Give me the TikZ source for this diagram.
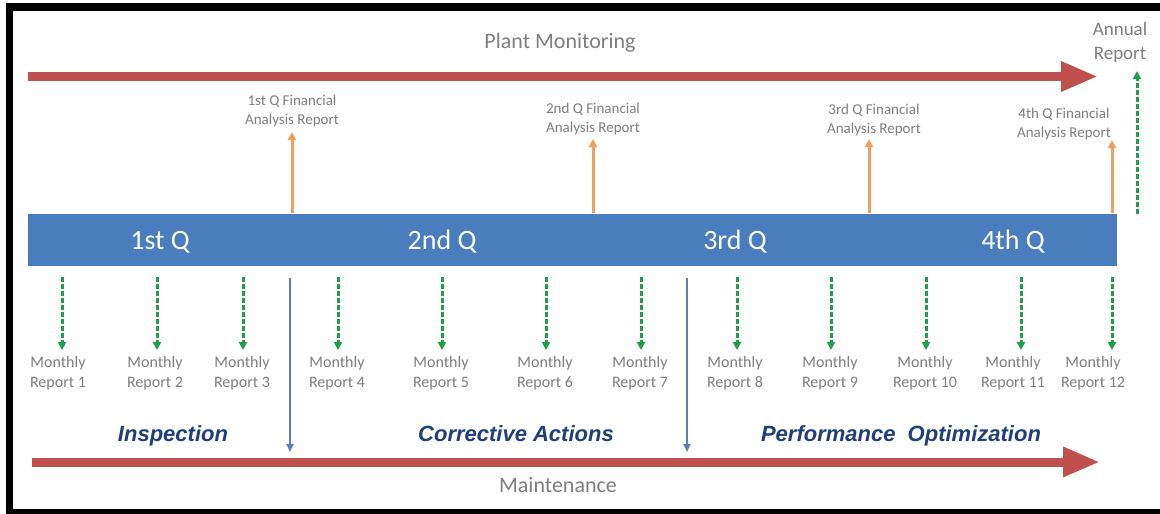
\documentclass[tikz,border=0pt]{standalone}
\usepackage{fontspec}
\setmainfont{Carlito}
\newfontfamily\boldital{Liberation Sans}
\usetikzlibrary{arrows.meta}
\definecolor{redarrow}{HTML}{C0504D}
\definecolor{barblue}{HTML}{4A7DBE}
\definecolor{greytext}{HTML}{7F7F7F}
\definecolor{orangearr}{HTML}{F0A05E}
\definecolor{greenarr}{HTML}{1EA04A}
\definecolor{sepblue}{HTML}{5A7DB4}
\definecolor{phaseblue}{HTML}{1F3F7A}
\tikzset{
  bigarrow/.style={draw=redarrow, line width=9pt, -{Triangle[length=37pt,width=28pt]}},
  quarter/.style={text=white, font=\fontsize{28}{30}\selectfont},
  fin/.style={text=greytext, align=center, font=\fontsize{15}{19}\selectfont, inner sep=0pt},
  month/.style={text=greytext, align=center, font=\fontsize{16}{19.5}\selectfont, inner sep=0pt},
  title/.style={text=greytext, align=center, inner sep=0pt},
  phase/.style={text=phaseblue, anchor=base, font=\boldital\bfseries\itshape\fontsize{22}{24}\selectfont, inner sep=0pt},
  finarrow/.style={draw=orangearr, line width=3pt, -{Triangle[length=8pt,width=8pt]}},
  monarrow/.style={draw=greenarr, line width=3pt, dash pattern=on 5pt off 2pt, -{Triangle[length=8pt,width=8pt]}},
  separrow/.style={draw=sepblue, line width=2.6pt, -{Triangle[length=8pt,width=7pt]}}
}
\begin{document}
\begin{tikzpicture}[x=1pt,y=-1pt]
\useasboundingbox (0,0) rectangle (1160,514);
% frame
\fill[black] (6,3) rectangle (1160,514);
\fill[white] (13,11) rectangle (1160,509);
% top arrow
\coordinate (pmS) at (28,76.5);
\coordinate (pmE) at (1098,76.5);
\draw[bigarrow] (pmS) -- (pmE);
\node[title, font=\fontsize{22}{24}\selectfont] (pm) at (560,43) {Plant Monitoring};
\node[title, font=\fontsize{19}{24}\selectfont] (ar) at (1120,42) {Annual\\Report};
% blue bar
\node[fill=barblue, draw=none, minimum width=1089pt, minimum height=52pt, inner sep=0pt, anchor=north west] (bar) at (28,214) {};
\node[quarter] (q1) at (160,242) {1st Q};
\node[quarter] (q2) at (442,242) {2nd Q};
\node[quarter] (q3) at (735,242) {3rd Q};
\node[quarter] (q4) at (1013,242) {4th Q};
% financial reports
\node[fin] (f1) at (292,111) {1st Q Financial\\Analysis Report};
\node[fin] (f2) at (593,119) {2nd Q Financial\\Analysis Report};
\node[fin] (f3) at (874,120) {3rd Q Financial\\Analysis Report};
\node[fin] (f4) at (1064,124) {4th Q Financial\\Analysis Report};
\coordinate (f1b) at (292,213); \coordinate (f1t) at (292,132);
\coordinate (f2b) at (593,213); \coordinate (f2t) at (593,139);
\coordinate (f3b) at (869,213); \coordinate (f3t) at (869,139);
\coordinate (f4b) at (1112,213); \coordinate (f4t) at (1112,140);
\foreach \i in {1,2,3,4} \draw[finarrow] (f\i b) -- (f\i t);
% annual report arrow
\coordinate (anb) at (1137,214); \coordinate (ant) at (1137,71);
\draw[monarrow] (anb) -- (ant);
% monthly reports
\foreach \n/\ax/\tx in {1/62/58, 2/157/155, 3/243/242, 4/338/337, 5/442/441, 6/546/545, 7/641/640, 8/737/735, 9/831/830, 10/926/925, 11/1021/1013, 12/1112/1093} {
  \coordinate (m\n a) at (\ax,277);
  \coordinate (m\n b) at (\ax,350);
  \node[month] (m\n) at (\tx,373) {Monthly\\Report \n};
  \draw[monarrow] (m\n a) -- (m\n b);
}
% separators
\coordinate (s1a) at (290,278); \coordinate (s1b) at (290,452);
\coordinate (s2a) at (687,278); \coordinate (s2b) at (687,452);
\draw[separrow] (s1a) -- (s1b);
\draw[separrow] (s2a) -- (s2b);
% phases
\node[phase] (ph1) at (173,441) {Inspection};
\node[phase] (ph2) at (516,441) {Corrective Actions};
\node[phase] (ph3) at (901,441) {Performance~~Optimization};
% bottom arrow
\coordinate (mtS) at (32,462);
\coordinate (mtE) at (1100,462);
\draw[bigarrow] (mtS) -- (mtE);
\node[title, font=\fontsize{22}{24}\selectfont] (mt) at (558,485) {Maintenance};
\end{tikzpicture}
\end{document}
